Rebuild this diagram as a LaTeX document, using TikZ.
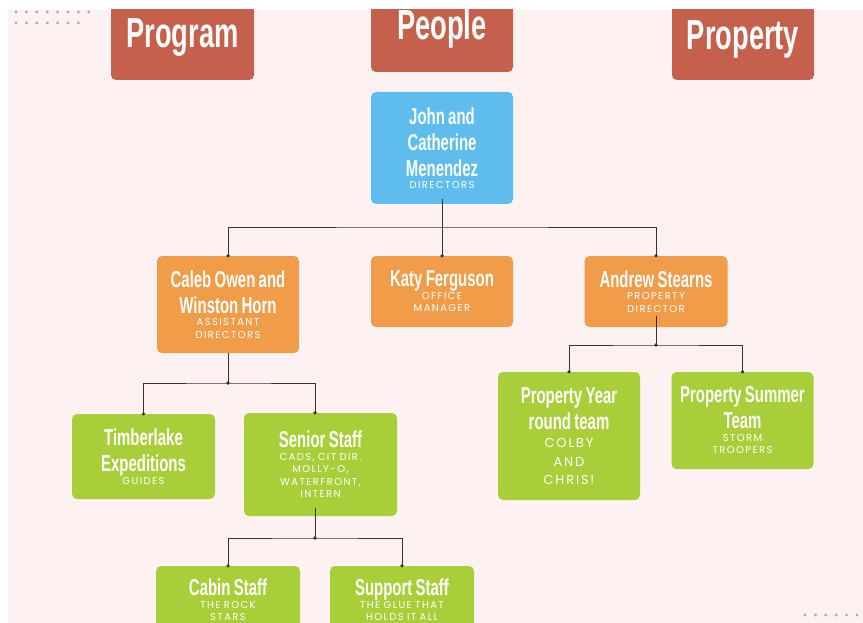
\documentclass[tikz,border=0pt]{standalone}
\usepackage{fontspec}
\usetikzlibrary{calc}
\newfontfamily\hfont[FakeStretch=0.65]{Liberation Sans}
\newfontfamily\sfontx[LetterSpace=14,WordSpace=2.2]{Poppins}
\definecolor{bgpink}{HTML}{FDF2F1}
\definecolor{hdred}{HTML}{C4604C}
\definecolor{cblue}{HTML}{5EBDEC}
\definecolor{corange}{HTML}{F09C48}
\definecolor{cgreen}{HTML}{A8CE3A}
\definecolor{linec}{HTML}{333333}
\definecolor{dotgray}{HTML}{B4AAAA}
\newcommand\hdl[1]{{\hfont\bfseries\fontsize{23}{26}\selectfont #1\par}}
\newcommand\sbl[1]{{\sfontx\fontsize{10}{12.5}\selectfont #1\par}}
\newcommand\sblL[1]{{\sfontx\fontsize{13}{18.5}\selectfont #1\par}}
\tikzset{
  hdr/.style={fill=hdred, rounded corners=5pt, inner sep=0pt, text=white,
    font=\hfont\bfseries\fontsize{42}{42}\selectfont, text height=30pt, text depth=0pt},
  card/.style={rounded corners=5pt, inner sep=0pt, text=white, align=center},
  conn/.style={draw=linec, line width=0.8pt},
  jdot/.style={fill=linec}
}
\begin{document}
\begin{tikzpicture}[x=1pt,y=-1pt]
\useasboundingbox (0,0) rectangle (863,623);
\fill[white] (0,0) rectangle (863,623);
\fill[bgpink] (8,10) rectangle (863,623);
\begin{scope}
\clip (8,10) rectangle (863,623);
% decorative dots
\foreach \i in {0,...,7} \fill[dotgray] (16+10.4*\i,12) circle (1.6pt);
\foreach \i in {0,...,6} \fill[dotgray] (16+10.4*\i,23) circle (1.6pt);
\foreach \i in {0,...,5} \fill[dotgray] (805+10.4*\i,615) circle (1.6pt);
% headers
\node[hdr, minimum width=143pt, minimum height=94pt] (program) at (182.5,33) {Program};
\node[hdr, minimum width=142pt, minimum height=94pt] (people) at (442,25) {People};
\node[hdr, minimum width=142pt, minimum height=90pt] (property) at (743,35) {Property};
% cards
\node[card, fill=cblue, text width=142pt, minimum height=112pt] (john) at (442,148)
  {\hdl{John and\\Catherine\\Menendez}\sbl{DIRECTORS}};
\node[card, fill=corange, text width=142pt, minimum height=97pt] (caleb) at (228,304.5)
  {\hdl{Caleb Owen and\\Winston Horn}\sbl{ASSISTANT\\DIRECTORS}};
\node[card, fill=corange, text width=142pt, minimum height=71pt] (katy) at (442,291.5)
  {\hdl{Katy Ferguson}\sbl{OFFICE\\MANAGER}};
\node[card, fill=corange, text width=143pt, minimum height=71pt] (andrew) at (656,291.5)
  {\hdl{Andrew Stearns}\sbl{PROPERTY\\DIRECTOR}};
\node[card, fill=cgreen, text width=143pt, minimum height=85pt] (timber) at (143.5,456.5)
  {\hdl{Timberlake\\Expeditions}\sbl{GUIDES}};
\node[card, fill=cgreen, text width=153pt, minimum height=103pt] (senior) at (320.5,464.5)
  {\hdl{Senior Staff}\sbl{CADS, CIT DIR.\\MOLLY-O,\\WATERFRONT,\\INTERN}};
\node[card, fill=cgreen, text width=142pt, minimum height=128pt] (pyear) at (569,436)
  {\hdl{Property Year\\round team}\sblL{COLBY\\AND\\CHRIS!}};
\node[card, fill=cgreen, text width=142pt, minimum height=97pt] (summer) at (742.5,420.5)
  {\hdl{Property Summer\\Team}\sbl{STORM\\TROOPERS}};
\node[card, fill=cgreen, text width=144pt, minimum height=68pt] (cabin) at (228,600)
  {\hdl{Cabin Staff}\sbl{THE ROCK\\STARS}};
\node[card, fill=cgreen, text width=144pt, minimum height=68pt] (support) at (402,600)
  {\hdl{Support Staff}\sbl{THE GLUE THAT\\HOLDS IT ALL}};
% connectors
\coordinate (j1) at (442,227);
\coordinate (j2) at (228,383);
\coordinate (j3) at (656,345);
\coordinate (j4) at (315,538);
\coordinate (sst) at ($(senior.north)+(-5.5,0)$);
\draw[conn] ($(john.south)+(0,-5)$) -- (katy.north);
\draw[conn] (caleb.north) |- (j1) -| (andrew.north);
\foreach \n in {caleb.north,katy.north,andrew.north} \fill[jdot] (\n) circle (1.8pt);
\draw[conn] (caleb.south) -- (j2);
\draw[conn] (timber.north) |- (j2) -| (sst);
\foreach \n in {timber.north,sst,j2} \fill[jdot] (\n) circle (1.8pt);
\draw[conn] ($(andrew.south)+(0,-11)$) -- (j3);
\draw[conn] (pyear.north) |- (j3) -| (summer.north);
\foreach \n in {pyear.north,summer.north,j3} \fill[jdot] (\n) circle (1.8pt);
\draw[conn] ($(senior.south)+(-5.5,-8)$) -- (j4);
\draw[conn] (cabin.north) |- (j4) -| (support.north);
\foreach \n in {cabin.north,support.north,j4} \fill[jdot] (\n) circle (1.8pt);
\end{scope}
\end{tikzpicture}
\end{document}
